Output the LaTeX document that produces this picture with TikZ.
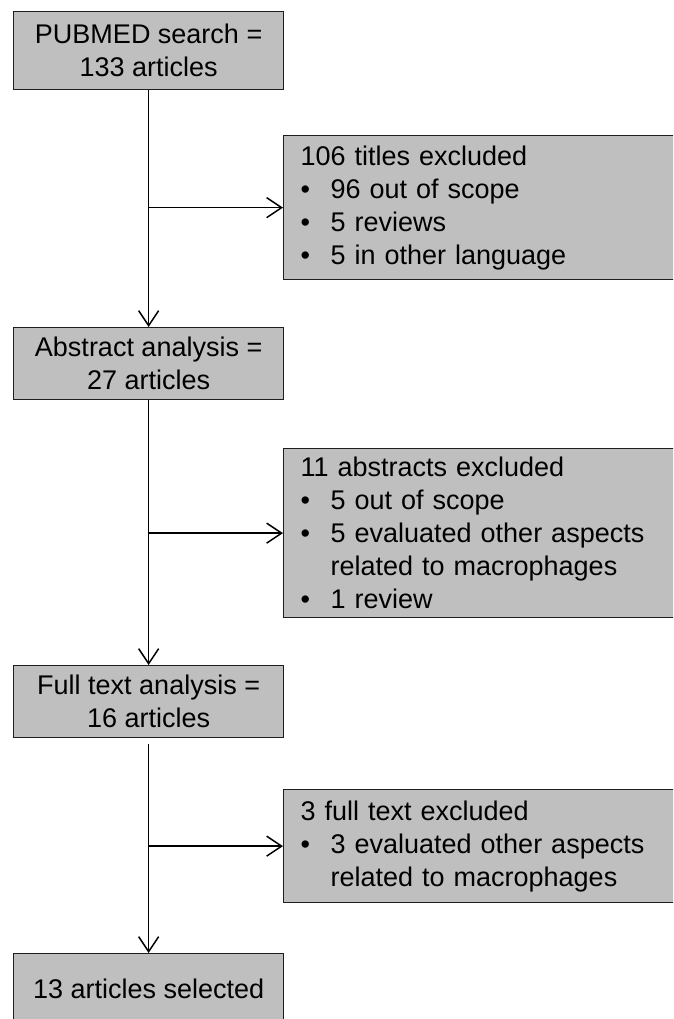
\documentclass[tikz,border=0pt]{standalone}
\usepackage{fontspec}
\setmainfont{Liberation Sans}
\usetikzlibrary{arrows.meta}
\definecolor{boxgray}{RGB}{191,191,191}
\definecolor{edgegray}{RGB}{30,30,30}
\begin{document}
\begin{tikzpicture}[x=1pt,y=-1pt,
  every node/.style={font=\fontsize{27}{33}\selectfont},
  basebox/.style={draw=edgegray, line width=1.3pt, fill=boxgray, inner sep=0pt, anchor=north west},
  lbox/.style={basebox, minimum width=270pt, align=center},
  rbox/.style={basebox, inner xsep=17pt, text width=380pt, align=left},
  flow/.style={draw=black, line width=1.5pt, -{Straight Barb[length=15pt,width=20pt]}}
]
\useasboundingbox (0,0) rectangle (673,1019);
\clip (0,0) rectangle (673,1019);
\newcommand{\blt}{\makebox[30pt][l]{•}}
\newcommand{\ind}{\makebox[30pt]{}}

\node[lbox, minimum height=78pt] (b1) at (13,11) {PUBMED search =\\133 articles};
\node[lbox, minimum height=72pt] (b3) at (13,327) {Abstract analysis =\\27 articles};
\node[lbox, minimum height=72pt] (b5) at (13,665) {Full text analysis =\\16 articles};
\node[lbox, minimum height=70pt] (b7) at (13,953) {13 articles selected};

\node[rbox, minimum height=144pt] (x1) at (283,135)
  {106 titles excluded\\\blt 96 out of scope\\\blt 5 reviews\\\blt 5 in other language};
\node[rbox, minimum height=169pt] (x2) at (283,448)
  {11 abstracts excluded\\\blt 5 out of scope\\\blt 5 evaluated other aspects\\\ind related to macrophages\\\blt 1 review};
\node[rbox, minimum height=113pt] (x3) at (283,789)
  {3 full text excluded\\\blt 3 evaluated other aspects\\\ind related to macrophages};

\draw[flow] (b1.south) -- (b3.north);
\draw[flow] (b3.south) -- (b5.north);
\draw[flow, shorten <=6pt] (b5.south) -- (b7.north);

\draw[flow] (b1.south |- x1.west) -- (x1.west);
\draw[flow] (b3.south |- x2.west) -- (x2.west);
\draw[flow] (b5.south |- x3.west) -- (x3.west);
\end{tikzpicture}
\end{document}
